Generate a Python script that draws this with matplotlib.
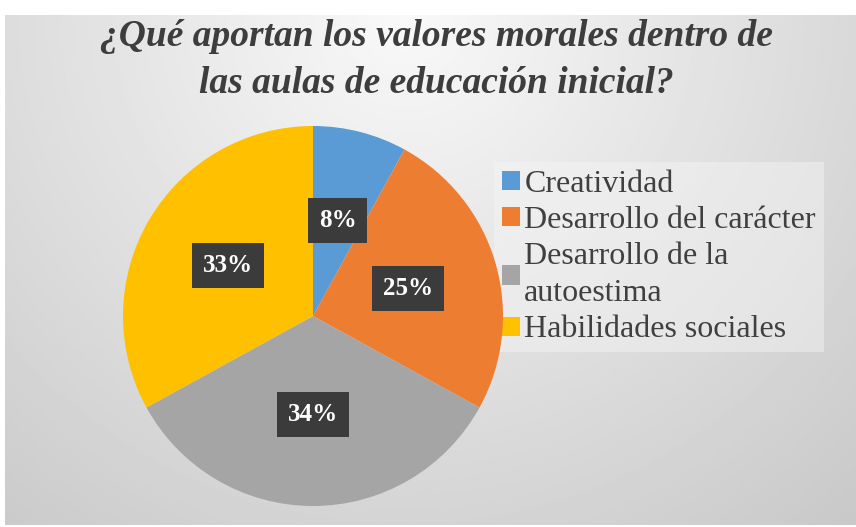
import numpy as np
import matplotlib.pyplot as plt
from matplotlib.patches import Patch

# datos del grafico
categorias = ["Creatividad", "Desarrollo del carácter",
              "Desarrollo de la\nautoestima", "Habilidades sociales"]
porcentajes = [8, 25, 34, 33]
colores = ["#5B9BD5", "#ED7D31", "#A5A5A5", "#FFC000"]
titulo = "¿Qué aportan los valores morales dentro de\nlas aulas de educación inicial?"

W, H = 856, 527
fig = plt.figure(figsize=(W / 100, H / 100), dpi=100)
fig.patch.set_facecolor("white")

# fondo con degradado radial (gris claro arriba, mas oscuro abajo)
bg = fig.add_axes([5 / W, 2 / H, (W - 5) / W, (H - 17) / H])
ny, nx = 200, 340
yy, xx = np.mgrid[0:1:ny * 1j, 0:1:nx * 1j]
d = np.sqrt(((xx - 0.47) * 1.65) ** 2 + (yy - 1.0) ** 2)
grad = 0.975 - 0.19 * d / d.max()
bg.imshow(grad, cmap="gray", vmin=0, vmax=1, origin="lower",
          extent=[0, 1, 0, 1], aspect="auto")
bg.axis("off")
bg.set_zorder(-2)

# pastel
cx, cy, r = 313, 316, 190
ax = fig.add_axes([(cx - r) / W, (H - cy - r) / H, 2 * r / W, 2 * r / H])
wedges, texts, autotexts = ax.pie(
    porcentajes, colors=colores, startangle=90, counterclock=False,
    autopct="%d%%", pctdistance=0.52, radius=1,
    textprops=dict(color="white", fontsize=18, fontweight="bold",
                   family="Liberation Serif"))
for t in autotexts:
    t.set_bbox(dict(facecolor="#3b3b3b", edgecolor="none", pad=8))
ax.set_xlim(-1, 1)
ax.set_ylim(-1, 1)
ax.set_aspect("equal")

# titulo
fig.text(436 / W, 1 - 60 / H, titulo, ha="center", va="center",
         fontsize=27, fontweight="bold", fontstyle="italic",
         family="Liberation Serif", color="#3d3d3d", linespacing=1.42)

# leyenda
handles = [Patch(facecolor=c, edgecolor="none") for c in colores]
leg = fig.legend(handles, categorias, loc="upper left",
                 bbox_to_anchor=(494 / W, 1 - 162 / H),
                 prop=dict(family="Liberation Serif", size=23),
                 frameon=True, fancybox=False, handlelength=0.55,
                 handleheight=0.55, handletextpad=0.15, labelspacing=0.22,
                 borderpad=0.25, borderaxespad=0, labelcolor="#404040")
for t in leg.get_texts():
    t.set_linespacing(1.38)
leg.get_frame().set_facecolor("#f6f6f6")
leg.get_frame().set_alpha(0.45)
leg.get_frame().set_edgecolor("none")
leg.set_zorder(-1)

fig.savefig("out.png", dpi=100)
